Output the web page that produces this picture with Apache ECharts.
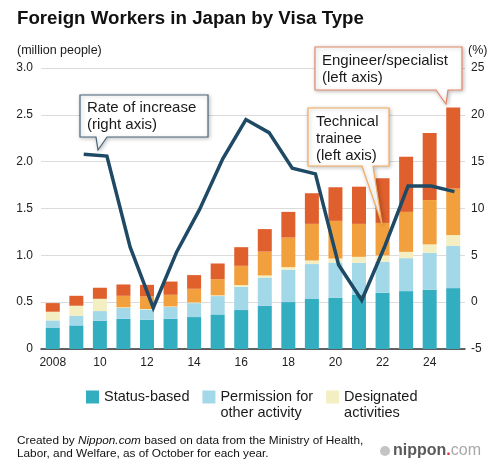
<!DOCTYPE html>
<html>
<head>
<meta charset="utf-8">
<script src="https://cdn.jsdelivr.net/npm/echarts/dist/echarts.min.js"></script>
<style>
html, body { margin: 0; padding: 0; background: #fff; }
#chart { width: 500px; height: 461px; }
</style>
</head>
<body>
<div id="chart"></div>
<script>
// values (million people / %)
var years = ['2008','2009','2010','2011','2012','2013','2014','2015','2016','2017','2018','2019','2020','2021','2022','2023','2024','2025'];
var statusBased = [0.224, 0.252, 0.302, 0.323, 0.312, 0.323, 0.341, 0.369, 0.416, 0.462, 0.501, 0.534, 0.547, 0.582, 0.600, 0.618, 0.632, 0.650];
var permission  = [0.081, 0.103, 0.103, 0.117, 0.110, 0.125, 0.149, 0.196, 0.248, 0.301, 0.344, 0.373, 0.376, 0.338, 0.331, 0.352, 0.395, 0.451];
var designated  = [0.093, 0.107, 0.131, 0.005, 0.005, 0.006, 0.007, 0.008, 0.018, 0.022, 0.029, 0.038, 0.043, 0.064, 0.067, 0.067, 0.090, 0.115];
var trainee     = [0, 0, 0, 0.123, 0.134, 0.125, 0.146, 0.173, 0.206, 0.255, 0.316, 0.391, 0.402, 0.352, 0.348, 0.427, 0.473, 0.498];
var engineer    = [0.092, 0.106, 0.118, 0.121, 0.124, 0.141, 0.146, 0.167, 0.199, 0.240, 0.274, 0.327, 0.359, 0.397, 0.477, 0.589, 0.717, 0.864];
var rate        = ['-', 15.8, 15.6, 5.9, -0.6, 5.3, 9.9, 15.3, 19.5, 18.1, 14.3, 13.7, 4.0, 0.2, 6.0, 12.4, 12.4, 11.8];
var leftTicks = { min: 0, max: 3, step: 0.5 };
var rightTicks = { min: -5, max: 25, step: 5 };

var font = '"Liberation Sans", Arial, Helvetica, sans-serif';
// leading blank line keeps the first text line level with the swatch
var legendNames = {
    'Status-based': 'Status-based',
    'Permission for other activity': '\nPermission for\nother activity',
    'Designated activities': '\nDesignated\nactivities'
};

function bar(name, data, color) {
    return {
        name: name,
        type: 'bar',
        stack: 'workers',
        barWidth: 14,
        xAxisIndex: 0,
        yAxisIndex: 0,
        itemStyle: { color: color },
        data: data
    };
}

function callout(points, stroke, text, tx, ty) {
    return {
        type: 'group',
        children: [{
            type: 'polygon',
            z: 50,
            shape: { points: points },
            style: {
                fill: '#fff', stroke: stroke, lineWidth: 1.2,
                shadowBlur: 4, shadowColor: 'rgba(0,0,0,0.25)', shadowOffsetX: 1, shadowOffsetY: 1
            }
        }, {
            type: 'text',
            z: 51,
            x: tx, y: ty,
            style: { text: text, font: '15px ' + font, fill: '#1a1a1a', lineHeight: 17, verticalAlign: 'top' }
        }]
    };
}

var chart = echarts.init(document.getElementById('chart'));
chart.setOption({
    animation: false,
    textStyle: { fontFamily: font },
    title: {
        text: 'Foreign Workers in Japan by Visa Type',
        left: 12, top: 4,
        textStyle: { fontSize: 18.7, fontWeight: 'bold', color: '#111', fontFamily: font }
    },
    legend: {
        left: 86, top: 373,
        padding: 0,
        itemWidth: 13, itemHeight: 13, itemGap: 13,
        icon: 'rect',
        selectedMode: false,
        data: ['Status-based', 'Permission for other activity', 'Designated activities'],
        formatter: function (name) { return legendNames[name]; },
        textStyle: { fontSize: 14.5, lineHeight: 16, color: '#1a1a1a', fontFamily: font }
    },
    grid: [
        { left: 41, right: 35, top: 68, bottom: 112 },
        { left: 49, right: 34, top: 68, bottom: 112 }
    ],
    xAxis: [{
        type: 'category',
        gridIndex: 0,
        data: years,
        axisTick: { show: false },
        axisLine: { lineStyle: { color: '#333', width: 1.5 } },
        axisLabel: {
            interval: 1, margin: 8, color: '#222', fontSize: 12,
            formatter: function (y) { return y === '2008' ? y : y.slice(2); }
        }
    }, {
        type: 'category',
        gridIndex: 1,
        data: years,
        show: false
    }],
    yAxis: [{
        type: 'value',
        gridIndex: 0,
        min: leftTicks.min, max: leftTicks.max, interval: leftTicks.step,
        axisLine: { show: false },
        axisTick: { show: false },
        splitLine: { lineStyle: { color: '#dcdcdc', width: 1 } },
        axisLabel: {
            margin: 8, color: '#222', fontSize: 12,
            formatter: function (v) { return v === 0 ? '0' : v.toFixed(1); }
        }
    }, {
        type: 'value',
        gridIndex: 0,
        position: 'right',
        min: rightTicks.min, max: rightTicks.max, interval: rightTicks.step,
        axisLine: { show: false },
        axisTick: { show: false },
        splitLine: { show: false },
        axisLabel: { margin: 6, color: '#222', fontSize: 12 }
    }, {
        type: 'value',
        gridIndex: 1,
        min: rightTicks.min, max: rightTicks.max, interval: rightTicks.step,
        show: false
    }],
    series: [
        bar('Status-based', statusBased, '#33adc0'),
        bar('Permission for other activity', permission, '#a3d8e8'),
        bar('Designated activities', designated, '#f3efc3'),
        bar('Technical trainee', trainee, '#f2a03d'),
        bar('Engineer/specialist', engineer, '#df5f2d'),
        {
            name: 'Rate of increase',
            type: 'line',
            xAxisIndex: 1,
            yAxisIndex: 2,
            symbol: 'none',
            lineStyle: { color: '#1e4a66', width: 3.5, join: 'miter' },
            data: rate
        }
    ],
    graphic: [
        {
            type: 'text', x: 17, y: 44,
            style: { text: '(million people)', font: '12.5px ' + font, fill: '#1a1a1a', verticalAlign: 'top' }
        },
        {
            type: 'text', x: 468, y: 44,
            style: { text: '(%)', font: '12.5px ' + font, fill: '#1a1a1a', verticalAlign: 'top' }
        },
        callout([[80, 95], [208, 95], [208, 137], [107, 137], [98, 150], [96, 137], [80, 137]],
            '#48657a', 'Rate of increase\n(right axis)', 87, 99),
        callout([[315, 47], [462, 47], [462, 90], [448, 90], [446, 104], [436, 90], [315, 90]],
            '#e3896a', 'Engineer/specialist\n(left axis)', 322, 52.5),
        callout([[308, 108], [389, 108], [389, 166], [373, 166], [382, 224], [362, 166], [308, 166]],
            '#f3ab5c', 'Technical\ntrainee\n(left axis)', 316, 113),
        {
            type: 'text', x: 17, y: 434.5,
            style: {
                text: '{n|Created by }{i|Nippon.com}{n| based on data from the Ministry of Health,}\n{n|Labor, and Welfare, as of October for each year.}',
                verticalAlign: 'top',
                rich: {
                    n: { font: '11.8px ' + font, fill: '#111', lineHeight: 12.5 },
                    i: { font: 'italic 11.8px ' + font, fill: '#111', lineHeight: 12.5 }
                }
            }
        },
        {
            type: 'circle', z: 5,
            shape: { cx: 385, cy: 451, r: 5 },
            style: { fill: '#c4c4c4' }
        },
        {
            type: 'text', x: 393, y: 451,
            style: {
                text: '{a|nippon}{b|.}{c|com}',
                verticalAlign: 'middle',
                rich: {
                    a: { font: 'bold 16px ' + font, fill: '#5a5a5a' },
                    b: { font: 'bold 16px ' + font, fill: '#d9363e' },
                    c: { font: '16px ' + font, fill: '#a8a8a8' }
                }
            }
        }
    ]
});
</script>
</body>
</html>
